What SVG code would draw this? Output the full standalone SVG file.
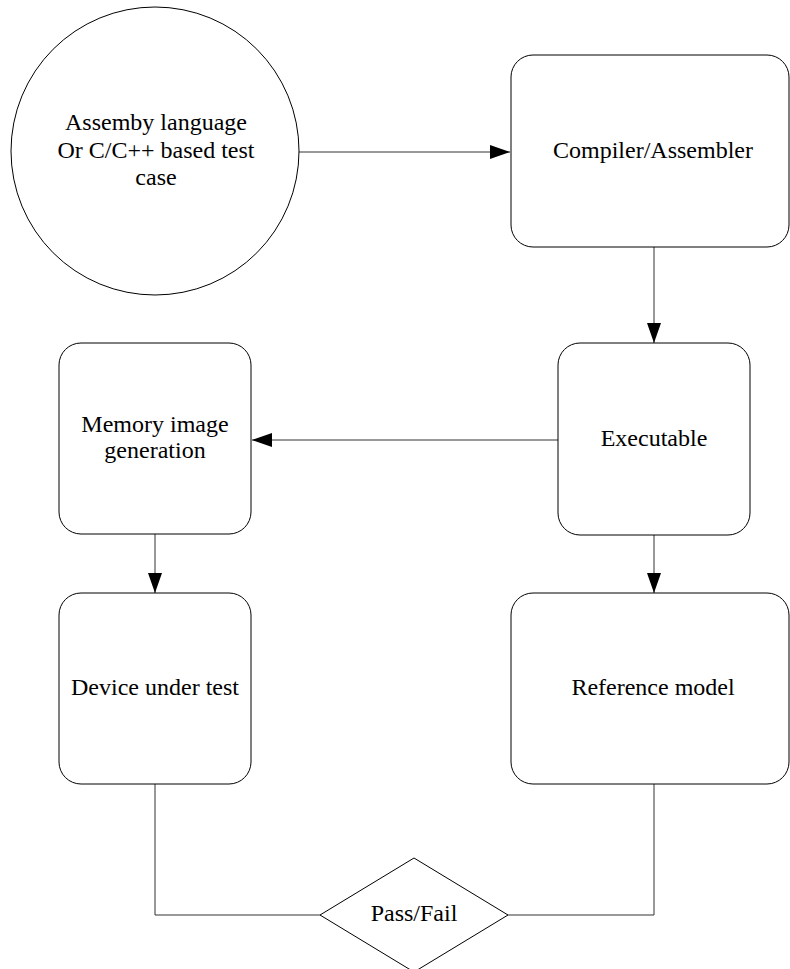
<svg xmlns="http://www.w3.org/2000/svg" width="790" height="969" viewBox="0 0 790 969">
<style>
.node{fill:#fff;stroke:#000;stroke-width:1}
.lbl{font-family:"Liberation Serif","Times New Roman",serif;font-size:24px;fill:#000;text-anchor:middle}
.conn{fill:none;stroke:#333;stroke-width:1}
</style>
<defs>
<marker id="arr" markerUnits="userSpaceOnUse" markerWidth="21" markerHeight="14" refX="20" refY="7" orient="auto">
<path d="M0,0 L20,7 L0,14 z" fill="#000"/>
</marker>
</defs>
<rect width="790" height="969" fill="#fff"/>
<g id="connectors">
<path class="conn" d="M299 152 H510" marker-end="url(#arr)"/>
<path class="conn" d="M654 247 V343" marker-end="url(#arr)"/>
<path class="conn" d="M558 440 H252" marker-end="url(#arr)"/>
<path class="conn" d="M155 534 V593" marker-end="url(#arr)"/>
<path class="conn" d="M654 535 V593" marker-end="url(#arr)"/>
<path class="conn" d="M155 784 V915 H320"/>
<path class="conn" d="M654 784 V915 H508"/>
</g>
<g id="testcase">
<circle class="node" cx="155" cy="151" r="144"/>
<text class="lbl" x="156" y="130">Assemby language</text>
<text class="lbl" x="156" y="158">Or C/C++ based test</text>
<text class="lbl" x="156" y="185">case</text>
</g>
<g id="compiler">
<rect class="node" x="511" y="55" width="278" height="192" rx="22"/>
<text class="lbl" x="653" y="158">Compiler/Assembler</text>
</g>
<g id="executable">
<rect class="node" x="558" y="343" width="192" height="192" rx="22"/>
<text class="lbl" x="654" y="446">Executable</text>
</g>
<g id="memory">
<rect class="node" x="59" y="343" width="192" height="191" rx="22"/>
<text class="lbl" x="155" y="432">Memory image</text>
<text class="lbl" x="155" y="458">generation</text>
</g>
<g id="dut">
<rect class="node" x="59" y="593" width="192" height="191" rx="22"/>
<text class="lbl" x="155" y="695">Device under test</text>
</g>
<g id="refmodel">
<rect class="node" x="511" y="593" width="278" height="191" rx="22"/>
<text class="lbl" x="653" y="695">Reference model</text>
</g>
<g id="passfail">
<polygon class="node" points="414,858 508,915 414,972 320,915"/>
<text class="lbl" x="414" y="921">Pass/Fail</text>
</g>
</svg>
